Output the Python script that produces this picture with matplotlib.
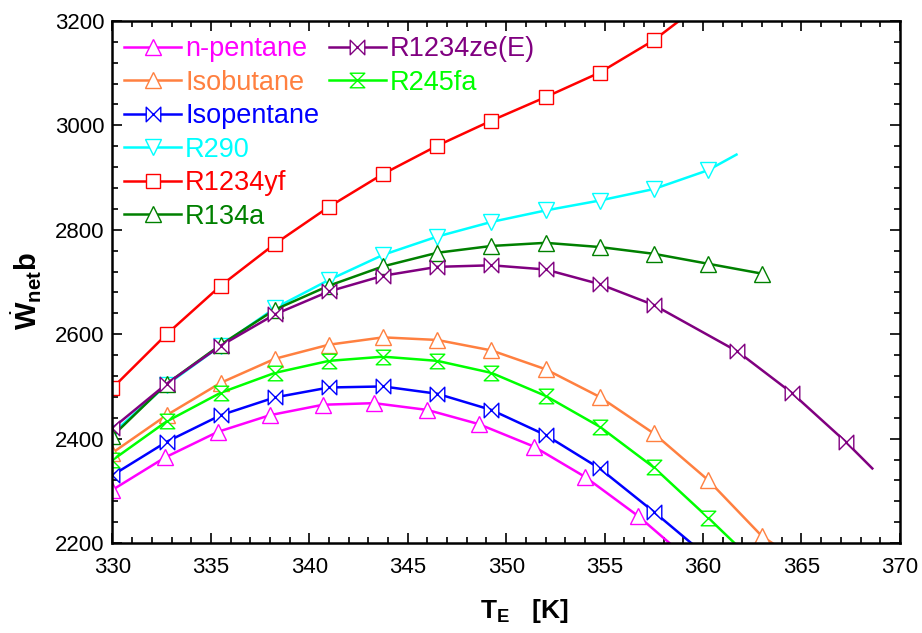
import matplotlib
matplotlib.use('Agg')
import matplotlib.pyplot as plt
from matplotlib.path import Path
from matplotlib.ticker import MultipleLocator

plt.rcParams['font.family'] = ['Liberation Sans', 'DejaVu Sans']
plt.rcParams['mathtext.fontset'] = 'custom'
plt.rcParams['mathtext.rm'] = 'Liberation Sans'
plt.rcParams['mathtext.bf'] = 'Liberation Sans:bold'
plt.rcParams['mathtext.it'] = 'Liberation Sans:italic'

# data (T_E in K, W_net b); last point of some series is the line end
t_npentane = [330, 332.67, 335.35, 338.0, 340.7, 343.3, 346.0, 348.6, 351.4, 354.0, 356.7, 358.3]
w_npentane = [2302, 2364, 2413, 2445, 2465, 2468, 2455, 2428, 2385, 2327, 2252, 2200]

t_isobutane = [330, 332.75, 335.5, 338.25, 341, 343.75, 346.5, 349.25, 352, 354.75, 357.5, 360.25, 363, 363.6]
w_isobutane = [2373, 2445, 2507, 2553, 2580, 2594, 2589, 2569, 2533, 2480, 2410, 2321, 2213, 2198]

t_isopentane = [330, 332.75, 335.5, 338.25, 341, 343.75, 346.5, 349.25, 352, 354.75, 357.5, 359.4]
w_isopentane = [2330, 2394, 2445, 2479, 2498, 2500, 2486, 2455, 2407, 2343, 2260, 2200]

t_r290 = [330, 332.75, 335.5, 338.25, 341, 343.75, 346.5, 349.25, 352, 354.75, 357.5, 360.25, 361.7]
w_r290 = [2410, 2503, 2578, 2650, 2704, 2752, 2787, 2815, 2837, 2856, 2878, 2914, 2944]

t_r1234yf = [330, 332.75, 335.5, 338.25, 341, 343.75, 346.5, 349.25, 352, 354.75, 357.5, 359.2]
w_r1234yf = [2497, 2600, 2693, 2773, 2844, 2907, 2961, 3009, 3054, 3101, 3163, 3212]

t_r134a = [330, 332.75, 335.5, 338.25, 341, 343.75, 346.5, 349.25, 352, 354.75, 357.5, 360.25, 363]
w_r134a = [2405, 2505, 2580, 2647, 2693, 2730, 2756, 2769, 2775, 2767, 2754, 2735, 2716]

t_r1234ze = [330, 332.75, 335.5, 338.25, 341, 343.75, 346.5, 349.25, 352, 354.75, 357.5, 361.75, 364.5, 367.25, 368.6]
w_r1234ze = [2420, 2505, 2578, 2638, 2682, 2712, 2729, 2732, 2724, 2696, 2656, 2567, 2488, 2394, 2343]

t_r245fa = [330, 332.75, 335.5, 338.25, 341, 343.75, 346.5, 349.25, 352, 354.75, 357.5, 360.25, 361.6]
w_r245fa = [2359, 2433, 2488, 2526, 2549, 2557, 2549, 2526, 2482, 2423, 2345, 2249, 2200]

bowtie = Path([(-1, -1), (1, 1), (1, -1), (-1, 1), (-1, -1)],
              [Path.MOVETO, Path.LINETO, Path.LINETO, Path.LINETO, Path.CLOSEPOLY])
hourglass = Path([(-1, 1), (1, 1), (-1, -1), (1, -1), (-1, 1)],
                 [Path.MOVETO, Path.LINETO, Path.LINETO, Path.LINETO, Path.CLOSEPOLY])

# (label, T, W, colour, marker, size, marks on last point?)
series = [
    ('n-pentane', t_npentane, w_npentane, '#ff00ff', '^', 12, False),
    ('Isobutane', t_isobutane, w_isobutane, '#ff8040', '^', 12, False),
    ('Isopentane', t_isopentane, w_isopentane, '#0000ff', bowtie, 10.5, False),
    ('R290', t_r290, w_r290, '#00ffff', 'v', 12, False),
    ('R1234yf', t_r1234yf, w_r1234yf, '#ff0000', 's', 10, False),
    ('R134a', t_r134a, w_r134a, '#008000', '^', 12, True),
    ('R1234ze(E)', t_r1234ze, w_r1234ze, '#800080', bowtie, 10.5, False),
    ('R245fa', t_r245fa, w_r245fa, '#00ff00', hourglass, 10.5, False),
]

fig = plt.figure(figsize=(9.22, 6.33), dpi=100)
ax = fig.add_axes([0.122, 0.142, 0.854, 0.825])

handles = []
for label, t, w, col, mk, ms, last in series:
    idx = list(range(len(t))) if last else list(range(len(t) - 1))
    h, = ax.plot(t, w, color=col, lw=1.8, marker=mk, ms=ms, mfc='white',
                 mec=col, mew=1.0, markevery=idx, label=label)
    handles.append(h)

ax.set_xlim(330, 370)
ax.set_ylim(2200, 3200)
ax.xaxis.set_major_locator(MultipleLocator(5))
ax.xaxis.set_minor_locator(MultipleLocator(1))
ax.yaxis.set_major_locator(MultipleLocator(200))
ax.yaxis.set_minor_locator(MultipleLocator(40))
ax.tick_params(which='both', direction='in', top=True, right=True, width=1.2, labelsize=16)
ax.tick_params(which='major', length=7)
ax.tick_params(which='minor', length=4)
ax.tick_params(axis='x', pad=10)
ax.tick_params(axis='y', pad=6)
for sp in ax.spines.values():
    sp.set_linewidth(1.8)

ax.set_xlabel(r'$\mathbf{T_E}$   $\mathbf{[K]}$', fontsize=19, labelpad=14)
ax.xaxis.label.set_x(0.523)
ax.set_ylabel(r'$\dot{\mathbf{W}}_{\mathbf{net}}\mathbf{b}$', fontsize=21, labelpad=8)
ax.yaxis.label.set_y(0.483)

legkw = dict(loc='upper left', frameon=False, fontsize=19.5, handlelength=2.1,
             handletextpad=0.15, labelspacing=0.28, borderaxespad=0, borderpad=0)
leg1 = ax.legend(handles=handles[:6], bbox_to_anchor=(0.015, 0.971), **legkw)
for txt, h in zip(leg1.get_texts(), handles[:6]):
    txt.set_color(h.get_color())
ax.add_artist(leg1)

leg2 = ax.legend(handles=handles[6:], bbox_to_anchor=(0.275, 0.971), **legkw)
for txt, h in zip(leg2.get_texts(), handles[6:]):
    txt.set_color(h.get_color())

fig.savefig('out.png', dpi=100)
